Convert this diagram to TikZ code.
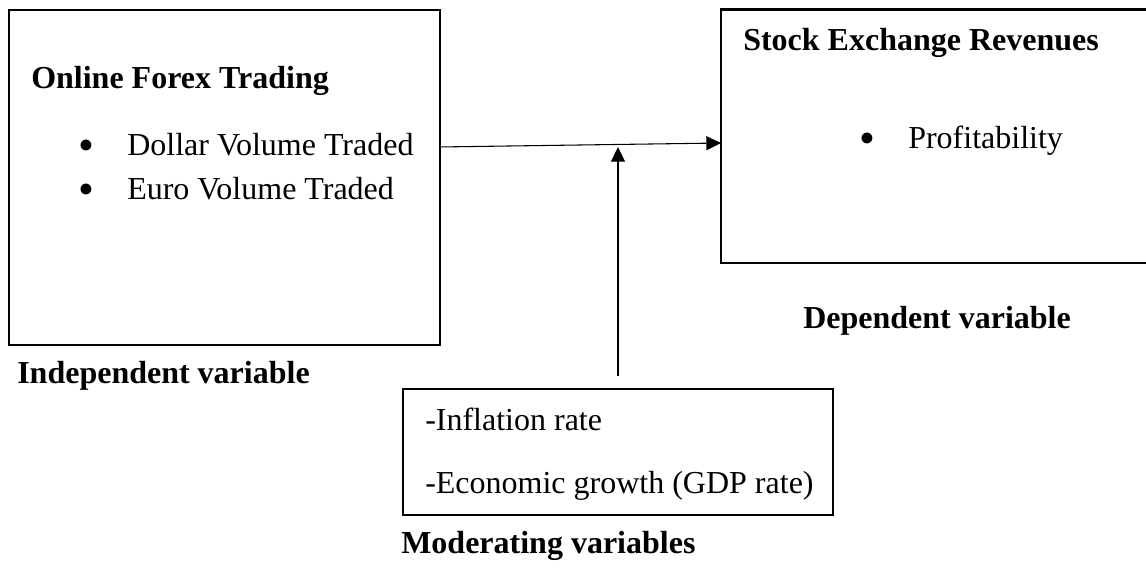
\documentclass[tikz,border=0pt]{standalone}
\usepackage{fontspec}
\setmainfont{Liberation Serif}
\usetikzlibrary{arrows.meta}
\begin{document}
\begin{tikzpicture}[x=0.75pt,y=-0.75pt,
  box/.style={draw=black,line width=1.6pt,inner sep=0pt,outer sep=0pt,rectangle},
  txt/.style={anchor=base west,inner sep=0pt,font=\fontsize{24}{28}\selectfont},
  btxt/.style={txt,font=\fontsize{24}{28}\selectfont\bfseries},
  bul/.style={anchor=base,inner sep=0pt,font=\fontsize{34}{36}\selectfont},
  arr/.style={draw=black,line width=0.8pt,-{Triangle[length=11pt,width=10.5pt]}}]
\useasboundingbox (0,0) rectangle (1146,569);
\clip (0,0) rectangle (1146,569);
% boxes
\node[box,minimum width=323.25pt,minimum height=251.25pt] (ind) at (224.5,177.5) {};
\node[box,minimum width=321.75pt,minimum height=190.1pt] (dep) at (935.5,136.25) {};
\node[box,minimum width=322.5pt,minimum height=94.5pt] (mod) at (618,452) {};
% texts in left box
\node[btxt] (t1) at (31,88) {Online Forex Trading};
\node[bul] (b1) at (86,160.5) {\textbullet};
\node[txt] (t2) at (127,155) {Dollar Volume Traded};
\node[bul] (b2) at (86,204.5) {\textbullet};
\node[txt] (t3) at (127,199) {Euro Volume Traded};
\node[btxt] (l1) at (17,383) {Independent variable};
% right box
\node[btxt] (t4) at (743,50) {Stock Exchange Revenues};
\node[bul] (b3) at (867,153.5) {\textbullet};
\node[txt] (t5) at (908,148) {Profitability};
\node[btxt] (l2) at (803,328) {Dependent variable};
% bottom box
\node[txt] (t6) at (425,430) {-Inflation rate};
\node[txt] (t7) at (425,493) {-Economic growth (GDP rate)};
\node[btxt] (l3) at (401,553) {Moderating variables};
% connectors
\draw[arr] ([yshift=22.9pt]ind.east) -- ([yshift=-5.06pt]dep.west);
\coordinate (vs) at (618,376);
\coordinate (vt) at (618,147);
\draw[arr] (vs) -- (vt);
\end{tikzpicture}
\end{document}
